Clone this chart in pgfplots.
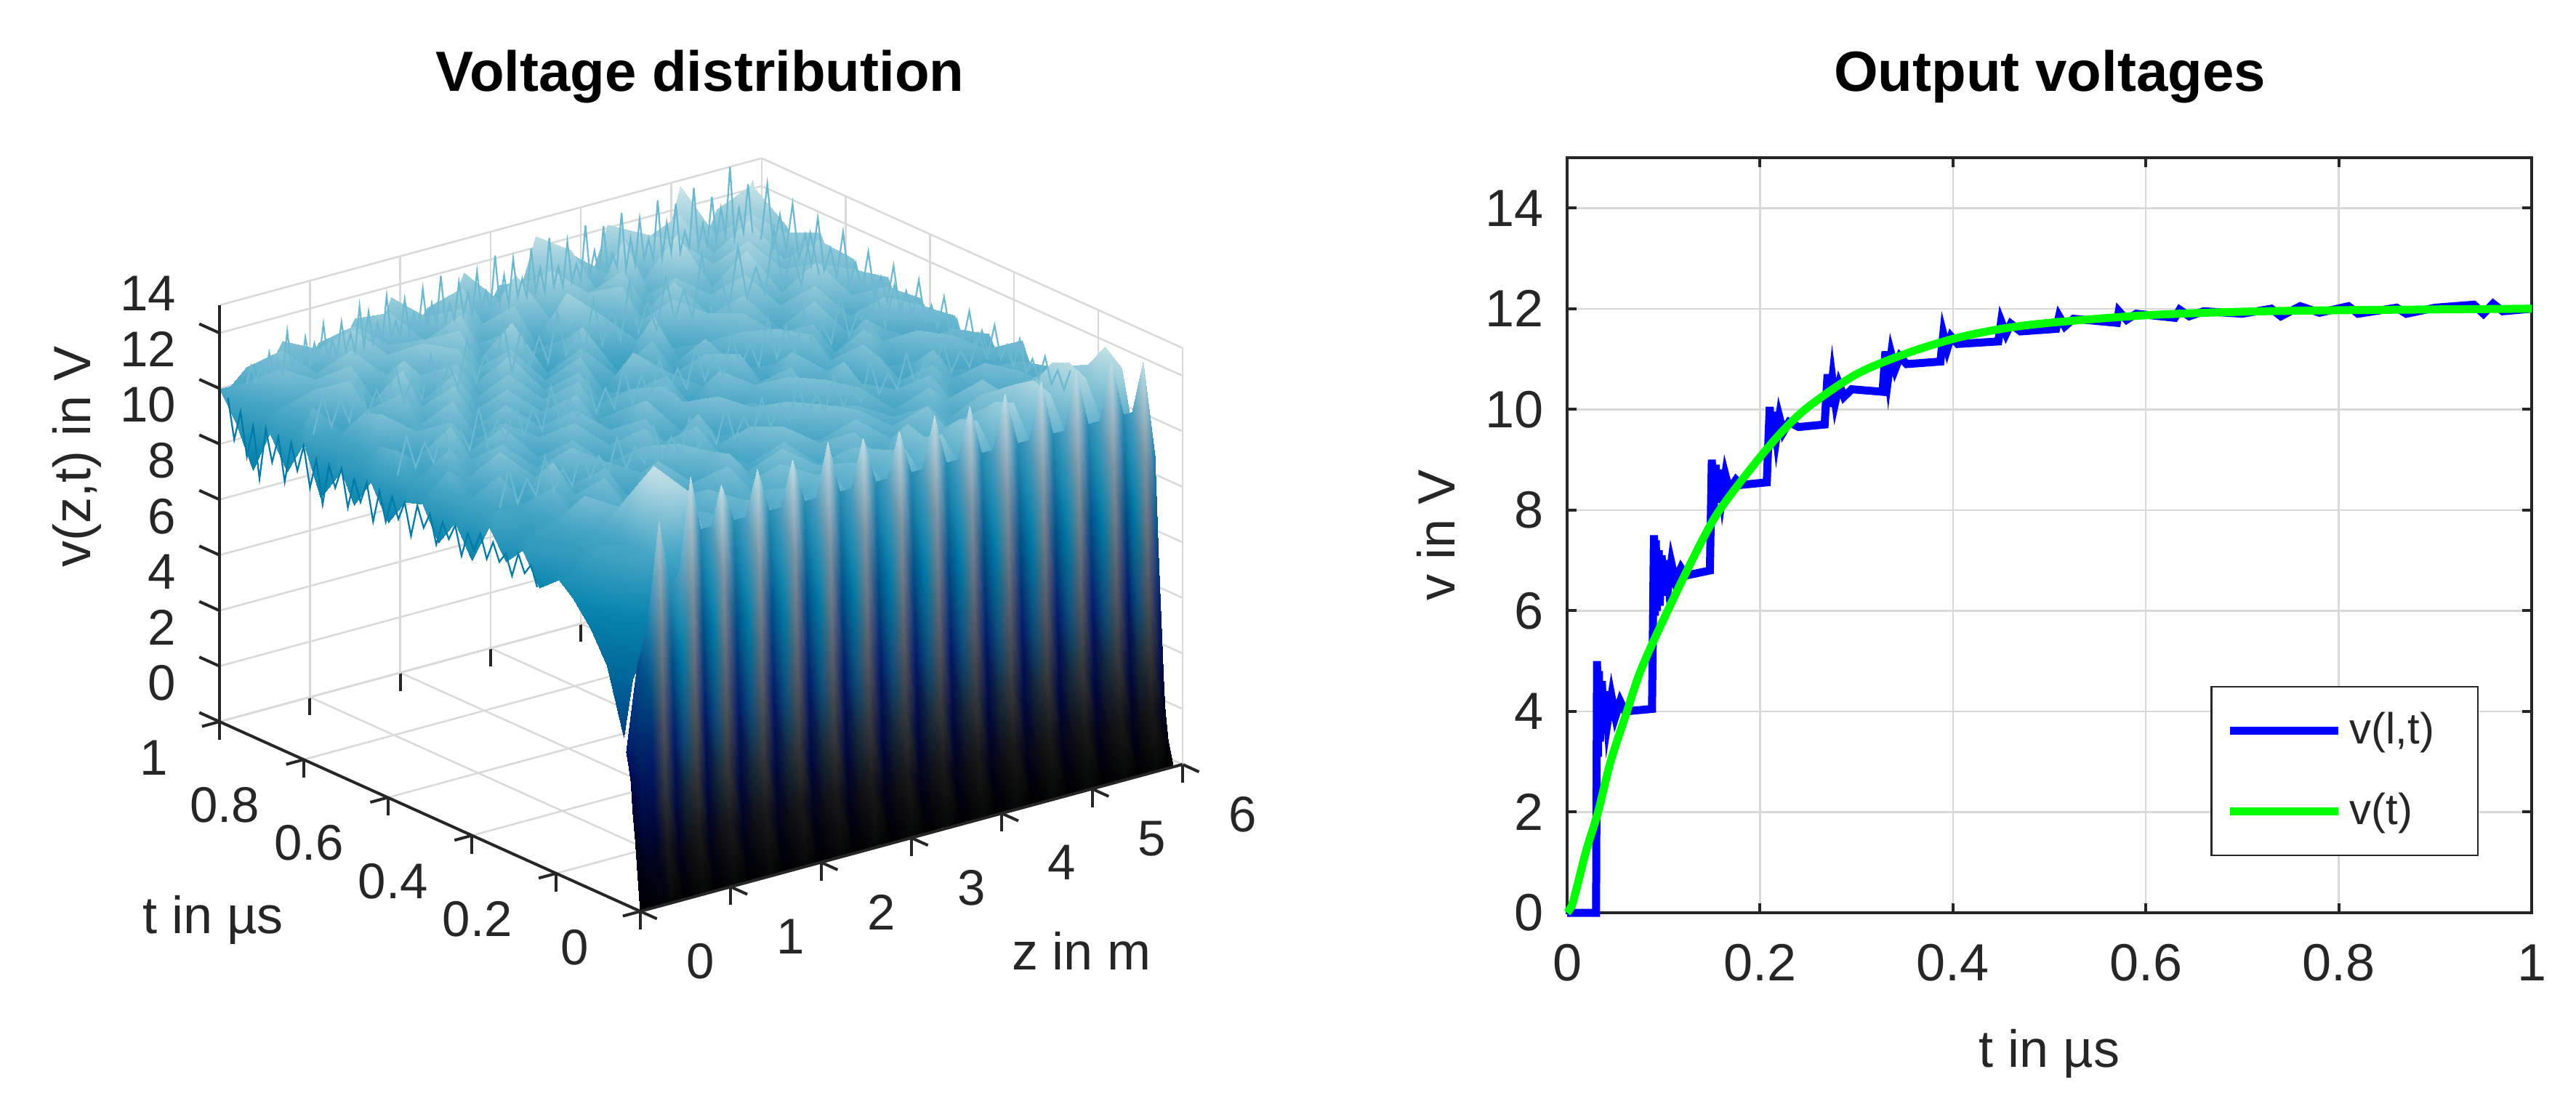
\documentclass[border=0pt]{standalone}
\usepackage{fontspec}
\setmainfont{Liberation Sans}
\usepackage{pgfplots}
\pgfplotsset{compat=1.18}
\definecolor{axdark}{rgb}{0.15,0.15,0.15}
\definecolor{gridc}{rgb}{0.85,0.85,0.85}
\definecolor{hair}{rgb}{0.42,0.72,0.82}
\definecolor{hairb}{rgb}{0.0,0.48,0.66}
\pgfplotsset{colormap={oc}{rgb(0cm)=(0,0,0); rgb(2cm)=(0,.03,.18); rgb(4cm)=(0,.1,.38); rgb(6cm)=(0,.25,.5); rgb(8cm)=(0,.4,.6); rgb(10cm)=(.03,.52,.68); rgb(12cm)=(.3,.66,.78); rgb(14cm)=(.68,.84,.88); rgb(15cm)=(.85,.92,.93)}}
\begin{document}
\begin{tikzpicture}
\path[use as bounding box] (0,0) rectangle (708.8pt,300.6pt);
\node[font=\bfseries\fontsize{15.6pt}{18pt}\selectfont] at (192.6pt,279.4pt) {Voltage distribution};
\node[font=\bfseries\fontsize{15.6pt}{18pt}\selectfont] at (564pt,279.4pt) {Output voltages};
\begin{axis}[anchor=origin, at={(176.2pt,49.8pt)},
 disabledatascaling,
 x={(24.86pt,6.74pt)}, y={(-115.8pt,52.2pt)}, z={(0pt,7.64pt)},
 xmin=0,xmax=6,ymin=0,ymax=1,zmin=0,zmax=15,
 xtick={0,1,2,3,4,5,6}, ytick={0,0.2,0.4,0.6,0.8,1}, ztick={0,2,4,6,8,10,12,14},
 yticklabels={0,0.2\kern3.4pt,0.4\kern3.4pt,0.6\kern3.4pt,0.8\kern3.4pt,1},
 grid=major, grid style={gridc,line width=0.5pt},
 axis line style={gridc,line width=0.5pt},
 tick style={axdark,line width=0.8pt}, tick align=outside, tick pos=left, zticklabel pos=left,
 ztick style={draw=none},
 major tick length=5pt,
 /pgf/number format/assume math mode=true,
 ticklabel style={font=\fontsize{13.8pt}{16pt}\selectfont,text=axdark},
 xticklabel style={xshift=6.3pt,yshift=-2.8pt},
 yticklabel style={xshift=-6.6pt},
 zticklabel style={xshift=-3.9pt,yshift=8pt},
 point meta min=0, point meta max=15, colormap name=oc,
 clip=false,
]
\addplot3[surf,shader=interp,mesh/rows=25,mesh/cols=31,z buffer=none] table {
x y z
5.9 1 14.3
5.7 1 12.2
5.5 1 13.6
5.3 1 12.1
5.1 1 14.8
4.9 1 12.4
4.7 1 13.2
4.5 1 11.9
4.3 1 14.1
4.1 1 12.3
3.9 1 13.4
3.7 1 12
3.5 1 14.4
3.3 1 12.3
3.1 1 13
2.9 1 11.9
2.7 1 13.8
2.5 1 12.2
2.3 1 12.9
2.1 1 12
1.9 1 13.6
1.7 1 11.9
1.5 1 13.2
1.3 1 12
1.1 1 12.7
.9 1 11.8
.7 1 13.1
.5 1 12
.3 1 12.5
.1 1 11.9
0 1 12
5.9 .96 12 
5.7 .96 14.6
5.5 .96 11.9
5.3 .96 13.1
5.1 .96 12.2
4.9 .96 14.2
4.7 .96 11.8
4.5 .96 13.9
4.3 .96 12
4.1 .96 12.8
3.9 .96 11.7
3.7 .96 14
3.5 .96 12.1
3.3 .96 13.3
3.1 .96 11.6
2.9 .96 12.9
2.7 .96 12
2.5 .96 13.7
2.3 .96 11.7
2.1 .96 13
1.9 .96 11.8
1.7 .96 13.5
1.5 .96 11.7
1.3 .96 13.4
1.1 .96 11.9
.9 .96 12.9
.7 .96 11.6
.5 .96 13.2
.3 .96 11.5
.1 .96 12.4
0 .96 11
5.9 .92 13.2
5.7 .92 11.8
5.5 .92 14
5.3 .92 12.2
5.1 .92 12.9
4.9 .92 11.9
4.7 .92 13.7
4.5 .92 12.1
4.3 .92 12.6
4.1 .92 14.3
3.9 .92 12.1
3.7 .92 12.7
3.5 .92 11.5
3.3 .92 13.9
3.1 .92 12.3
2.9 .92 14.1
2.7 .92 11.6
2.5 .92 12.6
2.3 .92 13.4
2.1 .92 11.8
1.9 .92 12.6
1.7 .92 11.7
1.5 .92 12.8
1.3 .92 11.6
1.1 .92 13.7
.9 .92 11.8
.7 .92 12.5
.5 .92 11.5
.3 .92 13
.1 .92 11.4
0 .92 9.6
5.9 .88 11.9
5.7 .88 13.4
5.5 .88 12
5.3 .88 14.2
5.1 .88 11.8
4.9 .88 13
4.7 .88 12
4.5 .88 14.4
4.3 .88 11.7
4.1 .88 12.4
3.9 .88 13.6
3.7 .88 11.5
3.5 .88 13.2
3.3 .88 11.4
3.1 .88 12.6
2.9 .88 11.8
2.7 .88 13.4
2.5 .88 11.3
2.3 .88 12.4
2.1 .88 13.6
1.9 .88 11.5
1.7 .88 13.1
1.5 .88 11.7
1.3 .88 12.9
1.1 .88 11.6
.9 .88 13.4
.7 .88 11.4
.5 .88 12.7
.3 .88 11.8
.1 .88 12
0 .88 11.2
5.9 .84 13.5
5.7 .84 12
5.5 .84 12.9
5.3 .84 11.7
5.1 .84 13.9
4.9 .84 11.9
4.7 .84 12.6
4.5 .84 11.7
4.3 .84 13.3
4.1 .84 11.8
3.9 .84 12.2
3.7 .84 13.5
3.5 .84 11.3
3.3 .84 12.2
3.1 .84 13.8
2.9 .84 11.4
2.7 .84 12.1
2.5 .84 13
2.3 .84 11.3
2.1 .84 12.2
1.9 .84 13.5
1.7 .84 11.6
1.5 .84 13.4
1.3 .84 11.5
1.1 .84 12.6
.9 .84 11.5
.7 .84 13.3
.5 .84 11.6
.3 .84 12.8
.1 .84 11.2
0 .84 10.1
5.9 .8 12.1
5.7 .8 13.7
5.5 .8 11.8
5.3 .8 13
5.1 .8 12
4.9 .8 14
4.7 .8 11.7
4.5 .8 12.8
4.3 .8 11.9
4.1 .8 13.6
3.9 .8 11.6
3.7 .8 12.5
3.5 .8 11.2
3.3 .8 13.1
3.1 .8 11.3
2.9 .8 12.6
2.7 .8 11.4
2.5 .8 12.3
2.3 .8 13.7
2.1 .8 11.5
1.9 .8 12.4
1.7 .8 13.3
1.5 .8 11.5
1.3 .8 12.7
1.1 .8 13.4
.9 .8 11.6
.7 .8 12.1
.5 .8 13.2
.3 .8 11.5
.1 .8 12.6
0 .8 11.4
5.9 .76 13.1
5.7 .76 11.7
5.5 .76 13.3
5.3 .76 11.8
5.1 .76 12.6
4.9 .76 11.6
4.7 .76 13.6
4.5 .76 12
4.3 .76 12.5
4.1 .76 11.6
3.9 .76 13.4
3.7 .76 11.3
3.5 .76 12.3
3.3 .76 11.2
3.1 .76 12.1
2.9 .76 13.3
2.7 .76 11.3
2.5 .76 12
2.3 .76 11.4
2.1 .76 13.2
1.9 .76 11.6
1.7 .76 12.3
1.5 .76 13.2
1.3 .76 11.5
1.1 .76 12.2
.9 .76 13.5
.7 .76 11.4
.5 .76 12.4
.3 .76 11.7
.1 .76 11.5
0 .76 9.7
5.9 .72 11.8
5.7 .72 13.2
5.5 .72 11.9
5.3 .72 13.8
5.1 .72 11.7
4.9 .72 12.6
4.7 .72 11.8
4.5 .72 13.3
4.3 .72 11.6
4.1 .72 13
3.9 .72 11.5
3.7 .72 12.1
3.5 .72 13.4
3.3 .72 11.1
3.1 .72 11.8
2.9 .72 11.3
2.7 .72 13
2.5 .72 11.4
2.3 .72 12.2
2.1 .72 11.5
1.9 .72 13.4
1.7 .72 11.5
1.5 .72 12.2
1.3 .72 13.3
1.1 .72 11.4
.9 .72 12.4
.7 .72 13.1
.5 .72 11.3
.3 .72 12.8
.1 .72 11.1
0 .72 11.3
5.9 .68 13
5.7 .68 11.6
5.5 .68 12.7
5.3 .68 11.7
5.1 .68 13.4
4.9 .68 11.9
4.7 .68 12.2
4.5 .68 11.5
4.3 .68 13.1
4.1 .68 11.7
3.9 .68 12.4
3.7 .68 11.4
3.5 .68 11.9
3.3 .68 13
3.1 .68 11.2
2.9 .68 12.1
2.7 .68 11.5
2.5 .68 13.1
2.3 .68 11.3
2.1 .68 12.3
1.9 .68 11.7
1.7 .68 13.2
1.5 .68 11.4
1.3 .68 12.2
1.1 .68 13.3
.9 .68 11.5
.7 .68 12.2
.5 .68 11.6
.3 .68 13
.1 .68 11.3
0 .68 10
5.9 .64 11.7
5.7 .64 13.1
5.5 .64 11.6
5.3 .64 12.4
5.1 .64 11.5
4.9 .64 13.3
4.7 .64 11.6
4.5 .64 12.5
4.3 .64 11.4
4.1 .64 12.9
3.9 .64 11.5
3.7 .64 13
3.5 .64 11.3
3.3 .64 12
3.1 .64 11.5
2.9 .64 13.2
2.7 .64 11.4
2.5 .64 12.1
2.3 .64 13
2.1 .64 11.6
1.9 .64 12.4
1.7 .64 11.5
1.5 .64 13.1
1.3 .64 11.4
1.1 .64 12
.9 .64 13.2
.7 .64 11.3
.5 .64 12.5
.3 .64 11.4
.1 .64 12.3
0 .64 11.1
5.9 .6 12.8
5.7 .6 11.5
5.5 .6 13.2
5.3 .6 11.6
5.1 .6 12.2
4.9 .6 11.4
4.7 .6 12.9
4.5 .6 11.5
4.3 .6 13.1
4.1 .6 11.3
3.9 .6 12
3.7 .6 11.5
3.5 .6 12.9
3.3 .6 11.4
3.1 .6 12.6
2.9 .6 11.5
2.7 .6 12.3
2.5 .6 11.4
2.3 .6 12.1
2.1 .6 13.1
1.9 .6 11.5
1.7 .6 12.4
1.5 .6 11.4
1.3 .6 13
1.1 .6 11.5
.9 .6 12
.7 .6 12.9
.5 .6 11.3
.3 .6 11.9
.1 .6 12.4
0 .6 9.9
5.9 .56 11.6
5.7 .56 13
5.5 .56 11.5
5.3 .56 12.5
5.1 .56 13
4.9 .56 11.4
4.7 .56 12
4.5 .56 13
4.3 .56 11.5
4.1 .56 12.3
3.9 .56 11.4
3.7 .56 13
3.5 .56 11.5
3.3 .56 12.2
3.1 .56 11.4
2.9 .56 12.9
2.7 .56 11.3
2.5 .56 12.8
2.3 .56 11.5
2.1 .56 12
1.9 .56 13.1
1.7 .56 11.4
1.5 .56 12.3
1.3 .56 11.5
1.1 .56 12.8
.9 .56 11.4
.7 .56 12.1
.5 .56 13.2
.3 .56 11.2
.1 .56 11.5
0 .56 10.9
5.9 .52 12.7
5.7 .52 11.5
5.5 .52 12.2
5.3 .52 11.4
5.1 .52 12.5
4.9 .52 13.1
4.7 .52 11.5
4.5 .52 12.3
4.3 .52 11.4
4.1 .52 13
3.9 .52 11.5
3.7 .52 12.2
3.5 .52 11.3
3.3 .52 13
3.1 .52 11.4
2.9 .52 12
2.7 .52 13
2.5 .52 11.4
2.3 .52 12.6
2.1 .52 11.5
1.9 .52 12
1.7 .52 13
1.5 .52 11.3
1.3 .52 12.4
1.1 .52 11.5
.9 .52 13.1
.7 .52 11.4
.5 .52 12.2
.3 .52 12.8
.1 .52 11
0 .52 11.2
5.9 .48 11.5
5.7 .48 12.7
5.5 .48 11.4
5.3 .48 13
5.1 .48 11.5
4.9 .48 12
4.7 .48 13
4.5 .48 11.4
4.3 .48 12.4
4.1 .48 11.5
3.9 .48 12.9
3.7 .48 11.3
3.5 .48 12.6
3.3 .48 11.5
3.1 .48 12
2.9 .48 11.4
2.7 .48 12.7
2.5 .48 11.5
2.3 .48 13.1
2.1 .48 11.4
1.9 .48 12.4
1.7 .48 11.5
1.5 .48 13
1.3 .48 11.4
1.1 .48 12.1
.9 .48 11.5
.7 .48 12.9
.5 .48 11.3
.3 .48 12
.1 .48 12.5
0 .48 10
5.9 .44 12.6
5.7 .44 11.4
5.5 .44 12.9
5.3 .44 11.5
5.1 .44 12.3
4.9 .44 11.4
4.7 .44 12.8
4.5 .44 11.5
4.3 .44 13
4.1 .44 11.4
3.9 .44 12.1
3.7 .44 13
3.5 .44 11.4
3.3 .44 12.4
3.1 .44 11.5
2.9 .44 13
2.7 .44 11.4
2.5 .44 12.1
2.3 .44 11.5
2.1 .44 12.9
1.9 .44 11.4
1.7 .44 12.3
1.5 .44 11.5
1.3 .44 12.8
1.1 .44 11.4
.9 .44 12.2
.7 .44 11.5
.5 .44 13.1
.3 .44 11.3
.1 .44 11.6
0 .44 11
5.9 .4 11.4
5.7 .4 12.5
5.5 .4 11.5
5.3 .4 12.1
5.1 .4 13
4.9 .4 11.5
4.7 .4 12.2
4.5 .4 11.4
4.3 .4 12.5
4.1 .4 11.5
3.9 .4 13
3.7 .4 11.4
3.5 .4 12.2
3.3 .4 11.5
3.1 .4 12.7
2.9 .4 11.4
2.7 .4 12
2.5 .4 13
2.3 .4 11.5
2.1 .4 12.3
1.9 .4 13
1.7 .4 11.4
1.5 .4 12.1
1.3 .4 11.5
1.1 .4 13
.9 .4 11.4
.7 .4 12.3
.5 .4 11.5
.3 .4 12.7
.1 .4 11.3
0 .4 9.9
5.9 .36 12.9
5.7 .36 11.4
5.5 .36 12.3
5.3 .36 11.4
5.1 .36 12.2
4.9 .36 12.9
4.7 .36 11.4
4.5 .36 12.4
4.3 .36 11.5
4.1 .36 12.8
3.9 .36 11.4
3.7 .36 12.5
3.5 .36 11.5
3.3 .36 13
3.1 .36 11.4
2.9 .36 12.3
2.7 .36 11.5
2.5 .36 12.1
2.3 .36 13
2.1 .36 11.4
1.9 .36 12.2
1.7 .36 12.8
1.5 .36 11.4
1.3 .36 12.6
1.1 .36 11.5
.9 .36 12.1
.7 .36 13.1
.5 .36 11.3
.3 .36 11.8
.1 .36 11.9
0 .36 11.4
5.9 .32 11.3
5.7 .32 12.6
5.5 .32 11.5
5.3 .32 12.9
5.1 .32 11.4
4.9 .32 12.1
4.7 .32 13
4.5 .32 11.4
4.3 .32 12.1
4.1 .32 11.5
3.9 .32 12.6
3.7 .32 11.4
3.5 .32 13
3.3 .32 11.5
3.1 .32 12
2.9 .32 11.4
2.7 .32 12.9
2.5 .32 11.5
2.3 .32 12.4
2.1 .32 11.5
1.9 .32 13
1.7 .32 11.4
1.5 .32 12.3
1.3 .32 11.5
1.1 .32 12.8
.9 .32 11.4
.7 .32 12.1
.5 .32 12.6
.3 .32 11.3
.1 .32 11
0 .32 10.4
5.9 .28 12.5
5.7 .28 11.3
5.5 .28 12.7
5.3 .28 11.4
5.1 .28 12.2
4.9 .28 11.5
4.7 .28 12.4
4.5 .28 13
4.3 .28 11.4
4.1 .28 12.3
3.9 .28 11.5
3.7 .28 12.9
3.5 .28 11.4
3.3 .28 12.2
3.1 .28 11.5
2.9 .28 13
2.7 .28 11.4
2.5 .28 12
2.3 .28 11.5
2.1 .28 12.8
1.9 .28 11.5
1.7 .28 12.2
1.5 .28 13
1.3 .28 11.4
1.1 .28 12
.9 .28 12.9
.7 .28 11.4
.5 .28 12.1
.3 .28 11.7
.1 .28 11.3
0 .28 11.1
5.9 .24 11.5
5.7 .24 12.2
5.5 .24 11.3
5.3 .24 12.6
5.1 .24 11.6
4.9 .24 13.2
4.7 .24 11.5
4.5 .24 12.1
4.3 .24 12.8
4.1 .24 11.5
3.9 .24 12.4
3.7 .24 11.5
3.5 .24 13
3.3 .24 11.5
3.1 .24 12.5
2.9 .24 11.6
2.7 .24 12.9
2.5 .24 11.5
2.3 .24 12.2
2.1 .24 13
1.9 .24 11.5
1.7 .24 12.3
1.5 .24 11.6
1.3 .24 12.8
1.1 .24 11.5
.9 .24 12.2
.7 .24 11.7
.5 .24 12.9
.3 .24 11.3
.1 .24 11.2
0 .24 10
5.9 .2 12.8
5.7 .2 11.6
5.5 .2 13.4
5.3 .2 11.7
5.1 .2 12.5
4.9 .2 11.7
4.7 .2 13.1
4.5 .2 11.7
4.3 .2 12.3
4.1 .2 13.2
3.9 .2 11.6
3.7 .2 12.4
3.5 .2 11.6
3.3 .2 13
3.1 .2 11.6
2.9 .2 12.2
2.7 .2 11.7
2.5 .2 13.1
2.3 .2 11.7
2.1 .2 12.2
1.9 .2 13
1.7 .2 11.6
1.5 .2 12.4
1.3 .2 11.6
1.1 .2 12.9
.9 .2 11.5
.7 .2 12.6
.5 .2 12
.3 .2 11.4
.1 .2 10.6
0 .2 10.7
5.9 .16 11.7
5.7 .16 13.6
5.5 .16 11.8
5.3 .16 14
5.1 .16 11.9
4.9 .16 13.6
4.7 .16 11.8
4.5 .16 13
4.3 .16 11.9
4.1 .16 12.7
3.9 .16 11.8
3.7 .16 13.2
3.5 .16 11.8
3.3 .16 12.4
3.1 .16 12.9
2.9 .16 11.7
2.7 .16 12.6
2.5 .16 11.8
2.3 .16 13
2.1 .16 11.8
1.9 .16 12.3
1.7 .16 11.8
1.5 .16 12.8
1.3 .16 11.7
1.1 .16 12.5
.9 .16 12.2
.7 .16 13.6
.5 .16 11.7
.3 .16 11.8
.1 .16 10.8
0 .16 10.2
5.9 .12 12.9
5.7 .12 14.5
5.5 .12 12
5.3 .12 14.3
5.1 .12 12
4.9 .12 14
4.7 .12 12
4.5 .12 13.6
4.3 .12 12
4.1 .12 13.3
3.9 .12 12
3.7 .12 13
3.5 .12 11.9
3.3 .12 12.9
3.1 .12 11.9
2.9 .12 12.8
2.7 .12 12
2.5 .12 12.7
2.3 .12 11.9
2.1 .12 12.6
1.9 .12 11.9
1.7 .12 12.5
1.5 .12 11.9
1.3 .12 12.4
1.1 .12 11.9
.9 .12 13
.7 .12 14.6
.5 .12 11.9
.3 .12 11.5
.1 .12 10.3
0 .12 9.4
5.9 .08 10
5.7 .08 14
5.5 .08 12.1
5.3 .08 14
5.1 .08 12
4.9 .08 13.8
4.7 .08 12.1
4.5 .08 13.8
4.3 .08 12
4.1 .08 13.5
3.9 .08 12.1
3.7 .08 13.4
3.5 .08 12
3.3 .08 13.2
3.1 .08 12
2.9 .08 13
2.7 .08 12
2.5 .08 13
2.3 .08 12
2.1 .08 12.8
1.9 .08 12
1.7 .08 12.8
1.5 .08 12
1.3 .08 12.5
1.1 .08 12
.9 .08 13.8
.7 .08 13.6
.5 .08 12
.3 .08 11
.1 .08 9.5
0 .08 8.3
5.9 .04 5
5.7 .04 10
5.5 .04 10
5.3 .04 10
5.1 .04 10
4.9 .04 10
4.7 .04 10
4.5 .04 10
4.3 .04 10
4.1 .04 10
3.9 .04 10
3.7 .04 10
3.5 .04 10
3.3 .04 10
3.1 .04 10
2.9 .04 10
2.7 .04 10
2.5 .04 10
2.3 .04 10
2.1 .04 10
1.9 .04 10
1.7 .04 10
1.5 .04 10
1.3 .04 10
1.1 .04 10
.9 .04 10
.7 .04 10
.5 .04 10
.3 .04 9.5
.1 .04 8
0 .04 6
};
\addplot3[hair,line width=0.45pt] coordinates {(5.9,1,12.4)(5.85,1,14.2)(5.8,1,12.5)(5.75,1,13.4)(5.7,1,12.4)(5.65,1,15)(5.6,1,12.6)(5.55,1,13.6)(5.5,1,12.5)(5.45,1,14.1)(5.4,1,12.4)(5.35,1,13.2)(5.3,1,12.4)(5.25,1,14.6)(5.2,1,12.5)(5.15,1,13.1)(5.1,1,12.4)(5.05,1,14.2)(5,1,12.5)(4.95,1,13.6)(4.9,1,12.4)(4.85,1,14.5)(4.8,1,12.4)(4.75,1,13.2)(4.7,1,12.5)(4.65,1,14)(4.6,1,12.4)(4.55,1,13.4)(4.5,1,12.3)(4.45,1,14.4)(4.4,1,12.5)(4.35,1,13)(4.3,1,12.4)(4.25,1,14.1)(4.2,1,12.4)(4.15,1,13.3)(4.1,1,12.5)(4.05,1,14.3)(4,1,12.4)(3.95,1,13)(3.9,1,12.4)(3.85,1,13.9)(3.8,1,12.3)(3.75,1,13.1)(3.7,1,12.4)(3.65,1,14.2)(3.6,1,12.3)(3.55,1,13.2)(3.5,1,12.4)(3.45,1,14)(3.4,1,12.3)(3.35,1,13)(3.3,1,12.4)(3.25,1,13.8)(3.2,1,12.2)(3.15,1,13.3)(3.1,1,12.3)(3.05,1,14.1)(3,1,12.2)(2.95,1,12.9)(2.9,1,12.3)(2.85,1,13.7)(2.8,1,12.2)(2.75,1,13)(2.7,1,12.3)(2.65,1,13.5)(2.6,1,12.2)(2.55,1,12.8)(2.5,1,12.2)(2.45,1,13.9)(2.4,1,12.2)(2.35,1,13)(2.3,1,12.2)(2.25,1,13.6)(2.2,1,12.1)(2.15,1,12.8)(2.1,1,12.2)(2.05,1,13.4)(2,1,12.1)(1.95,1,12.7)(1.9,1,12.2)(1.85,1,13.7)(1.8,1,12.1)(1.75,1,12.8)(1.7,1,12.1)(1.65,1,13.3)(1.6,1,12.1)(1.55,1,13.6)(1.5,1,12)(1.45,1,12.7)(1.4,1,12.1)(1.35,1,13.2)(1.3,1,12)(1.25,1,12.6)(1.2,1,12)(1.15,1,13.3)(1.1,1,12)(1.05,1,12.7)(1,1,12)(.95,1,13)(.9,1,11.9)(.85,1,12.5)(.8,1,12)(.75,1,13.4)(.7,1,11.9)(.65,1,12.4)(.6,1,11.9)(.55,1,12.8)(.5,1,11.9)(.45,1,12.3)(.4,1,11.9)(.35,1,12.5)(.3,1,11.9)};
\addplot3[hair,line width=0.45pt] coordinates {(5.9,.98,12.3)(5.9,.965,14.4)(5.9,.95,12.2)(5.9,.935,13.5)(5.9,.92,12.3)(5.9,.905,14.1)(5.9,.89,12.2)(5.9,.875,13.2)(5.9,.86,12.2)(5.9,.845,14)(5.9,.83,12.2)(5.9,.815,13.1)(5.9,.8,12.2)(5.9,.785,13.9)(5.9,.77,12.1)(5.9,.755,13)(5.9,.74,12.1)(5.9,.725,13.6)(5.9,.71,12.1)(5.9,.695,12.9)(5.9,.68,12.1)(5.9,.665,13.5)(5.9,.65,12)(5.9,.635,12.8)(5.9,.62,12)(5.9,.605,13.4)(5.9,.59,12)(5.9,.575,12.7)(5.9,.56,12)(5.9,.545,13.2)(5.9,.53,12)(5.9,.515,12.6)(5.9,.5,11.9)(5.9,.485,13.1)(5.9,.47,11.9)(5.9,.455,12.6)(5.9,.44,11.9)(5.9,.425,13)(5.9,.41,11.9)(5.9,.395,12.5)(5.9,.38,11.8)(5.9,.365,12.9)(5.9,.35,11.8)(5.9,.335,12.4)(5.9,.32,11.8)(5.9,.305,12.7)(5.9,.29,11.8)(5.9,.275,12.4)(5.9,.26,11.8)(5.9,.245,12.6)};
\addplot3[hair,line width=0.45pt] coordinates {(5.8,.82,12.2)(5.7,.82,13.8)(5.6,.82,12)(5.5,.82,13.4)(5.4,.82,12.1)(5.3,.82,14.3)(5.2,.82,12)(5.1,.82,13.1)(5,.82,12.1)(4.9,.82,14)(4.8,.82,11.9)(4.7,.82,13.2)(4.6,.82,12)(4.5,.82,14.1)(4.4,.82,11.9)(4.3,.82,13)(4.2,.82,12)(4.1,.82,13.6)(4,.82,11.8)(3.9,.82,12.9)(3.8,.82,11.9)(3.7,.82,13.8)(3.6,.82,11.8)(3.5,.82,13)(3.4,.82,11.8)(3.3,.82,13.5)(3.2,.82,11.7)(3.1,.82,12.8)(3,.82,11.8)(2.9,.82,13.4)(2.8,.82,11.7)(2.7,.82,12.7)(2.6,.82,11.7)(2.5,.82,13.2)(2.4,.82,11.7)(2.3,.82,13.6)(2.2,.82,11.7)(2.1,.82,12.6)(2,.82,11.7)(1.9,.82,13.3)(1.8,.82,11.7)(1.7,.82,12.6)(1.6,.82,11.7)(1.5,.82,13.1)(1.4,.82,11.6)(1.3,.82,12.5)(1.2,.82,11.7)(1.1,.82,13.2)(1,.82,11.6)(.9,.82,12.4)(.8,.82,11.6)(.7,.82,12.9)(.6,.82,11.5)(.5,.82,12.4)(.4,.82,11.5)(.3,.82,12.7)(.2,.82,11.4)};
\addplot3[hair,line width=0.45pt] coordinates {(5.8,.62,12)(5.7,.62,13.3)(5.6,.62,11.9)(5.5,.62,13.1)(5.4,.62,11.9)(5.3,.62,12.7)(5.2,.62,11.9)(5.1,.62,13.4)(5,.62,11.8)(4.9,.62,12.6)(4.8,.62,11.9)(4.7,.62,13.2)(4.6,.62,11.8)(4.5,.62,12.9)(4.4,.62,11.8)(4.3,.62,13.3)(4.2,.62,11.7)(4.1,.62,12.6)(4,.62,11.8)(3.9,.62,13.1)(3.8,.62,11.7)(3.7,.62,12.5)(3.6,.62,11.7)(3.5,.62,13)(3.4,.62,11.6)(3.3,.62,12.4)(3.2,.62,11.7)(3.1,.62,12.9)(3,.62,11.6)(2.9,.62,12.5)(2.8,.62,11.6)(2.7,.62,13)(2.6,.62,11.6)(2.5,.62,12.4)(2.4,.62,11.6)(2.3,.62,12.9)(2.2,.62,11.6)(2.1,.62,12.4)(2,.62,11.6)(1.9,.62,13)(1.8,.62,11.5)(1.7,.62,12.4)(1.6,.62,11.5)(1.5,.62,12.8)(1.4,.62,11.5)(1.3,.62,12.3)(1.2,.62,11.5)(1.1,.62,12.9)(1,.62,11.5)(.9,.62,12.3)(.8,.62,11.5)(.7,.62,12.7)(.6,.62,11.4)(.5,.62,12.2)(.4,.62,11.4)(.3,.62,12.6)(.2,.62,11.3)};
\addplot3[hair,line width=0.45pt] coordinates {(5.8,.42,11.9)(5.7,.42,12.9)(5.6,.42,11.8)(5.5,.42,12.5)(5.4,.42,11.8)(5.3,.42,13)(5.2,.42,11.7)(5.1,.42,12.4)(5,.42,11.7)(4.9,.42,12.9)(4.8,.42,11.7)(4.7,.42,12.4)(4.6,.42,11.7)(4.5,.42,13)(4.4,.42,11.6)(4.3,.42,12.3)(4.2,.42,11.6)(4.1,.42,12.8)(4,.42,11.6)(3.9,.42,12.3)(3.8,.42,11.6)(3.7,.42,12.9)(3.6,.42,11.6)(3.5,.42,12.3)(3.4,.42,11.6)(3.3,.42,12.7)(3.2,.42,11.5)(3.1,.42,12.2)(3,.42,11.5)(2.9,.42,12.8)(2.8,.42,11.5)(2.7,.42,12.2)(2.6,.42,11.5)(2.5,.42,12.7)(2.4,.42,11.5)(2.3,.42,12.2)(2.2,.42,11.5)(2.1,.42,12.8)(2,.42,11.5)(1.9,.42,12.2)(1.8,.42,11.5)(1.7,.42,12.7)(1.6,.42,11.5)(1.5,.42,12.2)(1.4,.42,11.5)(1.3,.42,12.6)(1.2,.42,11.4)(1.1,.42,12.1)(1,.42,11.4)(.9,.42,12.7)(.8,.42,11.4)(.7,.42,12.1)(.6,.42,11.3)(.5,.42,12.6)(.4,.42,11.3)};
\addplot3[hairb,line width=0.45pt] coordinates {(0,.98,11.8)(0,.965,10.4)(0,.95,11.5)(0,.935,10)(0,.92,11.2)(0,.905,9.4)(0,.89,11.3)(0,.875,10.2)(0,.86,11.2)(0,.845,9.7)(0,.83,11.2)(0,.815,10.3)(0,.8,11.3)(0,.785,9.9)(0,.77,11)(0,.755,9.5)(0,.74,11)(0,.725,10.3)(0,.71,11.1)(0,.695,9.8)(0,.68,10.9)(0,.665,10.2)(0,.65,11)(0,.635,9.7)(0,.62,10.9)(0,.605,9.9)(0,.59,10.9)(0,.575,10.2)(0,.56,10.9)(0,.545,9.8)(0,.53,11)(0,.515,10.3)(0,.5,10.9)(0,.485,9.9)(0,.47,10.8)(0,.455,10.3)(0,.44,10.9)(0,.425,9.9)(0,.41,10.8)(0,.395,10.3)(0,.38,11)(0,.365,10.2)(0,.35,10.9)(0,.335,10.3)(0,.32,10.7)(0,.305,10)(0,.29,10.9)(0,.275,10.3)(0,.26,10.7)(0,.245,10)};
\addplot3[surf,shader=interp,mesh/rows=6,mesh/cols=48,z buffer=none,mesh/color input=explicit,point meta=explicit symbolic] table[meta=c] {
x y z c
5.9 .033 5 0,.3,.5
5.85 .033 11 .1,.5,.68
5.72 .033 14.5 .75,.87,.9
5.6 .033 12.8 .3,.62,.75
5.5 .033 12.8 .15,.55,.7
5.37 .033 14.8 .75,.87,.9
5.24 .033 12.8 .3,.62,.75
5.11 .033 12.8 .15,.55,.7
4.98 .033 14.8 .75,.87,.9
4.85 .033 12.8 .3,.62,.75
4.72 .033 12.8 .15,.55,.7
4.59 .033 14.8 .75,.87,.9
4.46 .033 12.8 .3,.62,.75
4.33 .033 12.8 .15,.55,.7
4.19 .033 14.7 .75,.87,.9
4.06 .033 12.8 .3,.62,.75
3.93 .033 12.8 .15,.55,.7
3.8 .033 14.6 .75,.87,.9
3.67 .033 12.8 .3,.62,.75
3.54 .033 12.8 .15,.55,.7
3.41 .033 14.6 .75,.87,.9
3.28 .033 12.8 .3,.62,.75
3.15 .033 12.8 .15,.55,.7
3.02 .033 14.4 .75,.87,.9
2.89 .033 12.8 .3,.62,.75
2.76 .033 12.8 .15,.55,.7
2.62 .033 14.5 .75,.87,.9
2.49 .033 12.8 .3,.62,.75
2.36 .033 12.8 .15,.55,.7
2.23 .033 14.7 .75,.87,.9
2.1 .033 12.8 .3,.62,.75
1.97 .033 12.8 .15,.55,.7
1.84 .033 14.4 .75,.87,.9
1.71 .033 12.8 .3,.62,.75
1.58 .033 12.8 .15,.55,.7
1.45 .033 14.4 .75,.87,.9
1.32 .033 12.8 .3,.62,.75
1.19 .033 12.8 .15,.55,.7
1.05 .033 14.2 .75,.87,.9
.94 .033 12.8 .3,.62,.75
.82 .033 12.8 .15,.55,.7
.71 .033 14.8 .75,.87,.9
.59 .033 11.5 .3,.62,.75
.48 .033 11 .15,.55,.7
.36 .033 13.5 .65,.8,.85
.24 .033 10 .1,.5,.68
.12 .033 8.5 0,.3,.55
0 .033 5.5 0,.1,.42
5.9 .027 3.8 0,.1,.4
5.85 .027 8.3 0,.3,.52
5.72 .027 11 .5,.58,.63
5.6 .027 9.2 0,.48,.65
5.5 .027 9.2 0,.3,.52
5.37 .027 11 .5,.58,.63
5.24 .027 9.2 0,.48,.65
5.11 .027 9.2 0,.3,.52
4.98 .027 11 .5,.58,.63
4.85 .027 9.2 0,.48,.65
4.72 .027 9.2 0,.3,.52
4.59 .027 11 .5,.58,.63
4.46 .027 9.2 0,.48,.65
4.33 .027 9.2 0,.3,.52
4.19 .027 11 .5,.58,.63
4.06 .027 9.2 0,.48,.65
3.93 .027 9.2 0,.3,.52
3.8 .027 11 .5,.58,.63
3.67 .027 9.2 0,.48,.65
3.54 .027 9.2 0,.3,.52
3.41 .027 11 .5,.58,.63
3.28 .027 9.2 0,.48,.65
3.15 .027 9.2 0,.3,.52
3.02 .027 11 .5,.58,.63
2.89 .027 9.2 0,.48,.65
2.76 .027 9.2 0,.3,.52
2.62 .027 11 .5,.58,.63
2.49 .027 9.2 0,.48,.65
2.36 .027 9.2 0,.3,.52
2.23 .027 11 .5,.58,.63
2.1 .027 9.2 0,.48,.65
1.97 .027 9.2 0,.3,.52
1.84 .027 11 .5,.58,.63
1.71 .027 9.2 0,.48,.65
1.58 .027 9.2 0,.3,.52
1.45 .027 11 .5,.58,.63
1.32 .027 9.2 0,.48,.65
1.19 .027 9.2 0,.3,.52
1.05 .027 11 .5,.58,.63
.94 .027 9.2 0,.48,.65
.82 .027 9.2 0,.3,.52
.71 .027 11 .5,.58,.63
.59 .027 8.6 0,.48,.65
.48 .027 8.3 0,.3,.52
.36 .027 10.1 .45,.55,.6
.24 .027 7.5 0,.3,.5
.12 .027 6.4 0,.2,.45
0 .027 5 0,.05,.36
5.9 .022 2.5 0,.05,.3
5.85 .022 5.5 0,.1,.4
5.72 .022 7.3 .36,.38,.42
5.6 .022 6.1 .05,.3,.48
5.5 .022 6.1 0,.1,.4
5.37 .022 7.3 .36,.38,.42
5.24 .022 6.1 .05,.3,.48
5.11 .022 6.1 0,.1,.4
4.98 .022 7.3 .36,.38,.42
4.85 .022 6.1 .05,.3,.48
4.72 .022 6.1 0,.1,.4
4.59 .022 7.3 .36,.38,.42
4.46 .022 6.1 .05,.3,.48
4.33 .022 6.1 0,.1,.4
4.19 .022 7.3 .36,.38,.42
4.06 .022 6.1 .05,.3,.48
3.93 .022 6.1 0,.1,.4
3.8 .022 7.3 .36,.38,.42
3.67 .022 6.1 .05,.3,.48
3.54 .022 6.1 0,.1,.4
3.41 .022 7.3 .36,.38,.42
3.28 .022 6.1 .05,.3,.48
3.15 .022 6.1 0,.1,.4
3.02 .022 7.3 .36,.38,.42
2.89 .022 6.1 .05,.3,.48
2.76 .022 6.1 0,.1,.4
2.62 .022 7.3 .36,.38,.42
2.49 .022 6.1 .05,.3,.48
2.36 .022 6.1 0,.1,.4
2.23 .022 7.3 .36,.38,.42
2.1 .022 6.1 .05,.3,.48
1.97 .022 6.1 0,.1,.4
1.84 .022 7.3 .36,.38,.42
1.71 .022 6.1 .05,.3,.48
1.58 .022 6.1 0,.1,.4
1.45 .022 7.3 .36,.38,.42
1.32 .022 6.1 .05,.3,.48
1.19 .022 6.1 0,.1,.4
1.05 .022 7.3 .36,.38,.42
.94 .022 6.1 .05,.3,.48
.82 .022 6.1 0,.1,.4
.71 .022 7.3 .36,.38,.42
.59 .022 5.8 .05,.3,.48
.48 .022 5.5 0,.1,.4
.36 .022 6.8 .32,.35,.4
.24 .022 5 0,.1,.4
.12 .022 4.3 0,.08,.34
0 .022 4.5 0,.03,.28
5.9 .018 1.5 0,.02,.2
5.85 .018 3.3 0,.03,.25
5.72 .018 4.4 .22,.23,.24
5.6 .018 3.7 .08,.14,.2
5.5 .018 3.7 0,.03,.25
5.37 .018 4.4 .22,.23,.24
5.24 .018 3.7 .08,.14,.2
5.11 .018 3.7 0,.03,.25
4.98 .018 4.4 .22,.23,.24
4.85 .018 3.7 .08,.14,.2
4.72 .018 3.7 0,.03,.25
4.59 .018 4.4 .22,.23,.24
4.46 .018 3.7 .08,.14,.2
4.33 .018 3.7 0,.03,.25
4.19 .018 4.4 .22,.23,.24
4.06 .018 3.7 .08,.14,.2
3.93 .018 3.7 0,.03,.25
3.8 .018 4.4 .22,.23,.24
3.67 .018 3.7 .08,.14,.2
3.54 .018 3.7 0,.03,.25
3.41 .018 4.4 .22,.23,.24
3.28 .018 3.7 .08,.14,.2
3.15 .018 3.7 0,.03,.25
3.02 .018 4.4 .22,.23,.24
2.89 .018 3.7 .08,.14,.2
2.76 .018 3.7 0,.03,.25
2.62 .018 4.4 .22,.23,.24
2.49 .018 3.7 .08,.14,.2
2.36 .018 3.7 0,.03,.25
2.23 .018 4.4 .22,.23,.24
2.1 .018 3.7 .08,.14,.2
1.97 .018 3.7 0,.03,.25
1.84 .018 4.4 .22,.23,.24
1.71 .018 3.7 .08,.14,.2
1.58 .018 3.7 0,.03,.25
1.45 .018 4.4 .22,.23,.24
1.32 .018 3.7 .08,.14,.2
1.19 .018 3.7 0,.03,.25
1.05 .018 4.4 .22,.23,.24
.94 .018 3.7 .08,.14,.2
.82 .018 3.7 0,.03,.25
.71 .018 4.4 .22,.23,.24
.59 .018 3.5 .08,.14,.2
.48 .018 3.3 0,.03,.25
.36 .018 4.1 .2,.22,.24
.24 .018 3 0,.03,.25
.12 .018 2.6 0,.03,.22
0 .018 3.5 0,.02,.2
5.9 .012 .8 0,.01,.08
5.85 .012 1.7 0,.01,.1
5.72 .012 2.2 .1,.1,.1
5.6 .012 1.8 .05,.05,.07
5.5 .012 1.8 0,.01,.1
5.37 .012 2.2 .1,.1,.1
5.24 .012 1.8 .05,.05,.07
5.11 .012 1.8 0,.01,.1
4.98 .012 2.2 .1,.1,.1
4.85 .012 1.8 .05,.05,.07
4.72 .012 1.8 0,.01,.1
4.59 .012 2.2 .1,.1,.1
4.46 .012 1.8 .05,.05,.07
4.33 .012 1.8 0,.01,.1
4.19 .012 2.2 .1,.1,.1
4.06 .012 1.8 .05,.05,.07
3.93 .012 1.8 0,.01,.1
3.8 .012 2.2 .1,.1,.1
3.67 .012 1.8 .05,.05,.07
3.54 .012 1.8 0,.01,.1
3.41 .012 2.2 .1,.1,.1
3.28 .012 1.8 .05,.05,.07
3.15 .012 1.8 0,.01,.1
3.02 .012 2.2 .1,.1,.1
2.89 .012 1.8 .05,.05,.07
2.76 .012 1.8 0,.01,.1
2.62 .012 2.2 .1,.1,.1
2.49 .012 1.8 .05,.05,.07
2.36 .012 1.8 0,.01,.1
2.23 .012 2.2 .1,.1,.1
2.1 .012 1.8 .05,.05,.07
1.97 .012 1.8 0,.01,.1
1.84 .012 2.2 .1,.1,.1
1.71 .012 1.8 .05,.05,.07
1.58 .012 1.8 0,.01,.1
1.45 .012 2.2 .1,.1,.1
1.32 .012 1.8 .05,.05,.07
1.19 .012 1.8 0,.01,.1
1.05 .012 2.2 .1,.1,.1
.94 .012 1.8 .05,.05,.07
.82 .012 1.8 0,.01,.1
.71 .012 2.2 .1,.1,.1
.59 .012 1.7 .05,.05,.07
.48 .012 1.7 0,.01,.1
.36 .012 2 .09,.09,.1
.24 .012 1.5 0,.01,.1
.12 .012 1.3 0,.01,.1
0 .012 2.5 0,.01,.12
5.9 0 0 0,0,0
5.85 0 0 0,0,0
5.72 0 0 .02,.03,.03
5.6 0 0 .01,.01,.01
5.5 0 0 0,0,0
5.37 0 0 .02,.03,.03
5.24 0 0 .01,.01,.01
5.11 0 0 0,0,0
4.98 0 0 .02,.03,.03
4.85 0 0 .01,.01,.01
4.72 0 0 0,0,0
4.59 0 0 .02,.03,.03
4.46 0 0 .01,.01,.01
4.33 0 0 0,0,0
4.19 0 0 .02,.03,.03
4.06 0 0 .01,.01,.01
3.93 0 0 0,0,0
3.8 0 0 .02,.03,.03
3.67 0 0 .01,.01,.01
3.54 0 0 0,0,0
3.41 0 0 .02,.03,.03
3.28 0 0 .01,.01,.01
3.15 0 0 0,0,0
3.02 0 0 .02,.03,.03
2.89 0 0 .01,.01,.01
2.76 0 0 0,0,0
2.62 0 0 .02,.03,.03
2.49 0 0 .01,.01,.01
2.36 0 0 0,0,0
2.23 0 0 .02,.03,.03
2.1 0 0 .01,.01,.01
1.97 0 0 0,0,0
1.84 0 0 .02,.03,.03
1.71 0 0 .01,.01,.01
1.58 0 0 0,0,0
1.45 0 0 .02,.03,.03
1.32 0 0 .01,.01,.01
1.19 0 0 0,0,0
1.05 0 0 .02,.03,.03
.94 0 0 .01,.01,.01
.82 0 0 0,0,0
.71 0 0 .02,.03,.03
.59 0 0 .01,.01,.01
.48 0 0 0,0,0
.36 0 0 .02,.03,.03
.24 0 0 .01,.01,.01
.12 0 0 0,0,0
0 0 0 0,0,0
};
\draw[axdark,line width=0.8pt] (axis cs:0,0,0)--(axis cs:6,0,0);
\draw[axdark,line width=0.8pt] (axis cs:0,0,0)--(axis cs:0,1,0);
\draw[axdark,line width=0.8pt] (axis cs:0,1,0)--(axis cs:0,1,15);
\draw[axdark,line width=0.8pt] (axis cs:0,1,0)--(axis cs:0,1.048,0);
\draw[axdark,line width=0.8pt] (axis cs:0,1,2)--(axis cs:0,1.048,2);
\draw[axdark,line width=0.8pt] (axis cs:0,1,4)--(axis cs:0,1.048,4);
\draw[axdark,line width=0.8pt] (axis cs:0,1,6)--(axis cs:0,1.048,6);
\draw[axdark,line width=0.8pt] (axis cs:0,1,8)--(axis cs:0,1.048,8);
\draw[axdark,line width=0.8pt] (axis cs:0,1,10)--(axis cs:0,1.048,10);
\draw[axdark,line width=0.8pt] (axis cs:0,1,12)--(axis cs:0,1.048,12);
\draw[axdark,line width=0.8pt] (axis cs:0,1,14)--(axis cs:0,1.048,14);
\end{axis}
\node[text=axdark,font=\fontsize{14.4pt}{16pt}\selectfont] at (297.6pt,39pt) {z in m};
\node[text=axdark,font=\fontsize{14.4pt}{16pt}\selectfont] at (58.6pt,47.4pt) {t in µs};
\node[text=axdark,rotate=90,font=\fontsize{14.4pt}{16pt}\selectfont] at (21.2pt,175pt) {v(z,t) in V};
\begin{axis}[anchor=south west, at={(431.2pt,49.4pt)}, width=265.4pt,height=207.8pt, scale only axis,
 xmin=0,xmax=1,ymin=0,ymax=15,
 xtick={0,0.2,0.4,0.6,0.8,1}, ytick={0,2,4,6,8,10,12,14},
 grid=major, grid style={gridc,line width=0.5pt},
 axis line style={axdark,line width=0.8pt},
 tick style={axdark,line width=0.8pt}, major tick length=2.6pt,
 /pgf/number format/assume math mode=true,
 ticklabel style={font=\fontsize{14.4pt}{16pt}\selectfont,text=axdark},
 xticklabel style={yshift=-5.2pt},
 yticklabel style={xshift=-3pt},
 xlabel={t in µs}, ylabel={v in V},
 xlabel style={yshift=-6.3pt}, ylabel style={yshift=1.5pt},
 label style={font=\fontsize{14.4pt}{16pt}\selectfont,text=axdark},
 legend cell align=left,
 legend image code/.code={\draw[#1,line width=2.2pt] (0,0)--(29.8pt,0);},
 legend style={at={(rel axis cs:0.667,0.075)},anchor=south west,draw=axdark,line width=0.5pt,font=\fontsize{12pt}{14pt}\selectfont,text=axdark,inner xsep=4pt,inner ysep=5pt,row sep=8pt},
 clip=false,
]
\addplot[blue,line width=2.2pt] coordinates {(0,0)(.03,0)(.031,5)(.032,3.1)(.033,4.8)(.034,3.4)(.036,4.6)(.038,3.7)(.04,4.4)(.042,3.8)(.046,4.3)(.05,3.9)(.055,4.2)(.06,4)(.088,4.05)(.09,7.5)(.091,5.9)(.092,7.4)(.093,6)(.095,7.2)(.096,6.1)(.098,7.1)(.1,6.3)(.102,7)(.105,6.5)(.108,6.95)(.112,6.6)(.118,6.85)(.123,6.7)(.148,6.8)(.15,9)(.152,8)(.154,8.9)(.156,8.15)(.158,8.8)(.161,8.3)(.164,8.7)(.168,8.4)(.175,8.6)(.18,8.5)(.207,8.55)(.21,10.05)(.212,9.3)(.214,9.95)(.217,9.45)(.22,9.85)(.224,9.55)(.23,9.75)(.24,9.65)(.267,9.7)(.27,10.7)(.272,10.05)(.275,10.6)(.278,10.15)(.282,10.5)(.287,10.25)(.295,10.4)(.327,10.35)(.33,11.15)(.333,10.65)(.336,11.1)(.34,10.8)(.345,11.05)(.352,10.9)(.387,10.95)(.39,11.5)(.394,11.2)(.398,11.45)(.405,11.3)(.447,11.35)(.45,11.75)(.455,11.5)(.46,11.7)(.47,11.55)(.507,11.6)(.51,11.85)(.516,11.65)(.525,11.8)(.57,11.72)(.572,11.95)(.58,11.78)(.59,11.9)(.63,11.82)(.635,11.98)(.645,11.85)(.66,11.95)(.7,11.9)(.73,12)(.74,11.85)(.76,12.05)(.78,11.92)(.81,12.05)(.82,11.9)(.86,12.02)(.87,11.9)(.9,12.02)(.94,12.08)(.95,11.9)(.96,12.1)(.97,11.95)(1,12)};
\addplot[green,line width=2.2pt,smooth] coordinates {(0,0)(.005,.15)(.01,.5)(.02,1.25)(.032,2)(.045,3)(.062,4)(.075,4.75)(.092,5.5)(.123,6.75)(.153,7.85)(.187,8.74)(.22,9.5)(.25,10.05)(.3,10.7)(.35,11.1)(.4,11.4)(.45,11.6)(.5,11.72)(.6,11.87)(.7,11.94)(.8,11.97)(1,12)};
\legend{{v(l,t)\hspace*{6pt}},{v(t)}}
\end{axis}
\end{tikzpicture}
\end{document}
